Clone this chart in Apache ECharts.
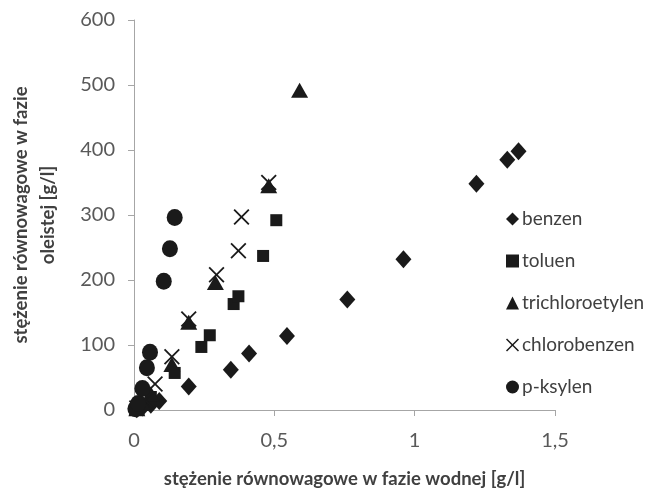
<!DOCTYPE html>
<html><head><meta charset="utf-8">
<script src="https://cdn.jsdelivr.net/npm/echarts@6/dist/echarts.min.js"></script>
<style>html,body{margin:0;padding:0;background:#fff}#c{width:649px;height:495px}</style>
</head><body><div id="c"></div>
<script>
const seriesNames = ['benzen', 'toluen', 'trichloroetylen', 'chlorobenzen', 'p-ksylen'];
const benzenX = [0.01, 0.03, 0.06, 0.09, 0.195, 0.345, 0.41, 0.545, 0.76, 0.96, 1.22, 1.33, 1.37];
const benzenY = [1, 4, 8, 14, 36, 62, 87, 114, 170, 232, 348, 385, 398];
const toluenX = [0.01, 0.03, 0.06, 0.145, 0.24, 0.27, 0.355, 0.372, 0.46, 0.507];
const toluenY = [2, 10, 20, 57, 97, 115, 163, 175, 237, 292];
const trichloroX = [0.01, 0.03, 0.06, 0.135, 0.195, 0.29, 0.48, 0.59];
const trichloroY = [2, 10, 25, 70, 135, 196, 345, 492];
const chloroX = [0.01, 0.04, 0.075, 0.135, 0.195, 0.294, 0.372, 0.383, 0.48];
const chloroY = [3, 15, 40, 82, 140, 208, 245, 297, 350];
const ksylenX = [0.005, 0.015, 0.03, 0.046, 0.057, 0.106, 0.128, 0.145];
const ksylenY = [2, 10, 33, 65, 89, 198, 248, 296];
const xTicks = [0, 0.5, 1, 1.5];
const yTicks = [0, 100, 200, 300, 400, 500, 600];

const xPath = 'path://M0,0.8L0.8,0L5,4.2L9.2,0L10,0.8L5.8,5L10,9.2L9.2,10L5,5.8L0.8,10L0,9.2L4.2,5Z';
const symbols = ['diamond', 'rect', 'triangle', xPath, 'circle'];
const sizes = [[16, 18], 12, [17, 15], 16, [16, 17]];
const xs = [benzenX, toluenX, trichloroX, chloroX, ksylenX];
const ys = [benzenY, toluenY, trichloroY, chloroY, ksylenY];
const FONT = 'Lato';

const chart = echarts.init(document.getElementById('c'), null, {renderer: 'canvas'});
chart.setOption({
  animation: false,
  backgroundColor: '#fff',
  grid: {left: 132, right: 94, top: 20, bottom: 85, containLabel: false},
  xAxis: {
    type: 'value', min: xTicks[0], max: xTicks[xTicks.length - 1], interval: 0.5,
    splitLine: {show: false},
    axisLine: {show: true, lineStyle: {color: '#a6a6a6', width: 1}},
    axisTick: {show: true, inside: false, length: 6, lineStyle: {color: '#a6a6a6'}},
    axisLabel: {color: '#595959', fontSize: 20, fontFamily: FONT, margin: 21,
      formatter: v => String(v).replace('.', ',')},
    name: 'stężenie równowagowe w fazie wodnej [g/l]',
    nameLocation: 'middle', nameGap: 60,
    nameTextStyle: {color: '#404040', fontSize: 18.5, fontWeight: 'bold', fontFamily: FONT}
  },
  yAxis: {
    type: 'value', min: yTicks[0], max: yTicks[yTicks.length - 1], interval: 100,
    splitLine: {show: false},
    axisLine: {show: true, lineStyle: {color: '#a6a6a6', width: 1}},
    axisTick: {show: true, inside: false, length: 6, lineStyle: {color: '#a6a6a6'}},
    axisLabel: {color: '#595959', fontSize: 20, fontFamily: FONT, margin: 19},
    name: 'stężenie równowagowe w fazie\noleistej [g/l]',
    nameLocation: 'middle', nameGap: 72, nameRotate: 90,
    nameTextStyle: {color: '#404040', fontSize: 18.5, fontWeight: 'bold', fontFamily: FONT, lineHeight: 27, align: 'center'}
  },
  legend: {
    orient: 'vertical', left: 501, top: 204, itemGap: 22, itemWidth: 13, itemHeight: 13,
    textStyle: {color: '#404040', fontSize: 19, fontFamily: FONT, padding: [0, 0, 0, -2], lineHeight: 20},
    data: seriesNames.map((n, i) => ({name: n, icon: symbols[i]}))
  },
  series: seriesNames.map((n, i) => ({
    name: n, type: 'scatter', symbol: symbols[i], symbolSize: sizes[i],
    itemStyle: {color: '#1a1a1a', opacity: 1},
    data: xs[i].map((x, j) => [x, ys[i][j]])
  }))
});
</script></body></html>
